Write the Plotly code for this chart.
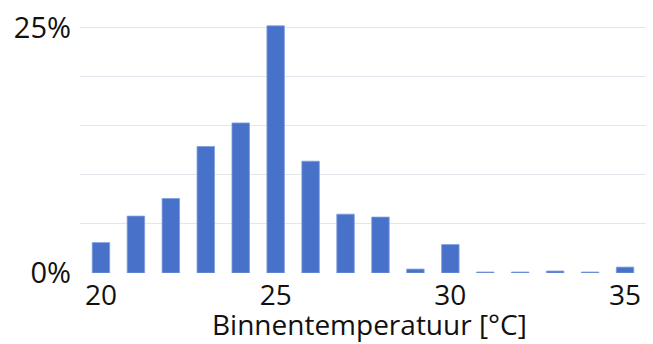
import plotly.graph_objects as go

# Share of hours per indoor temperature (°C), in percent
temperatures = list(range(20, 36))
share_pct = [3.1, 5.8, 7.6, 12.9, 15.3, 25.2, 11.4, 6.0, 5.7, 0.4, 2.9, 0.1, 0.1, 0.2, 0.1, 0.6]

y_tickvals = [0, 5, 10, 15, 20, 25]
y_ticktext = ["0%", "", "", "", "", "25%"]
x_tickvals = [20, 25, 30, 35]
x_title = "Binnentemperatuur [°C]"

font_family = "Open Sans, DejaVu Sans, sans-serif"

fig = go.Figure(
    go.Bar(
        x=temperatures,
        y=share_pct,
        width=0.5,
        marker=dict(color="#4872c9", line=dict(color="#7e9edd", width=0.8)),
    )
)

fig.update_layout(
    width=653,
    height=344,
    margin=dict(l=80, r=7, t=16, b=71),
    paper_bgcolor="white",
    plot_bgcolor="white",
    showlegend=False,
    font=dict(family=font_family, color="#111111"),
    xaxis=dict(
        range=[19.4, 35.6],
        tickvals=x_tickvals,
        ticktext=[str(v) for v in x_tickvals],
        tickfont=dict(size=28),
        showgrid=False,
        zeroline=False,
        showline=False,
        ticks="",
        ticklabelstandoff=3,
    ),
    yaxis=dict(
        range=[0, 26],
        tickvals=y_tickvals,
        ticktext=y_ticktext,
        tickfont=dict(size=29),
        showgrid=True,
        gridcolor="#e3e6ec",
        gridwidth=1.3,
        zeroline=False,
        showline=False,
        ticks="",
        ticklabelstandoff=8,
    ),
    annotations=[
        dict(
            text=x_title,
            xref="paper",
            yref="paper",
            x=0.512,
            y=0,
            yshift=-(344 - 273),
            xanchor="center",
            yanchor="bottom",
            borderpad=0,
            showarrow=False,
            font=dict(size=28),
        )
    ],
)

fig.write_html("out.html")
